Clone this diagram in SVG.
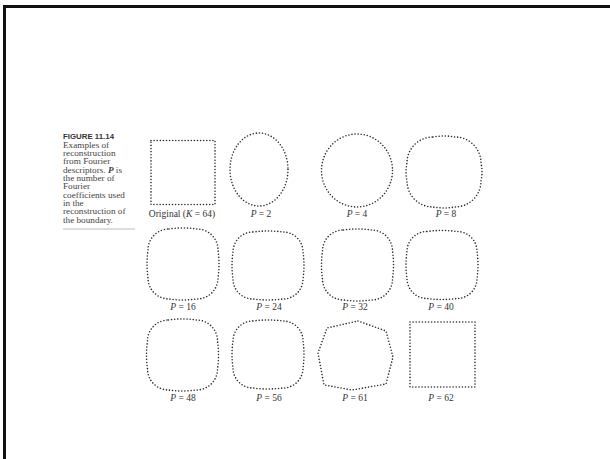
<svg xmlns="http://www.w3.org/2000/svg" width="610" height="459" viewBox="0 0 610 459">
<style>
.dot{fill:none;stroke:#2a2a2a;stroke-width:1.6;stroke-dasharray:0 3.1;stroke-linecap:round}
.lbl{font-family:"Liberation Serif","Times New Roman",serif;font-size:9.5px;fill:#333;text-anchor:middle}
.it{font-style:italic}
.cap{font-family:"Liberation Serif","Times New Roman",serif;font-size:9.2px;fill:#444}
.fig{font-family:"Liberation Sans",Arial,sans-serif;font-size:8px;font-weight:bold;fill:#333}
</style>
<defs>
<path id="rsA" d="M -14,-35 Q 0,-37 14,-35 A 21,21 0 0 1 35,-14 Q 37,0 35,14 A 21,21 0 0 1 14,35 Q 0,37 -14,35 A 21,21 0 0 1 -35,14 Q -37,0 -35,-14 A 21,21 0 0 1 -14,-35 Z"/>
<path id="rsB" d="M -15,-33.5 Q 0,-35.5 15,-33.5 A 20,20 0 0 1 35,-13.5 Q 37,0 35,13.5 A 20,20 0 0 1 15,33.5 Q 0,35.5 -15,33.5 A 20,20 0 0 1 -35,13.5 Q -37,0 -35,-13.5 A 20,20 0 0 1 -15,-33.5 Z"/>
</defs>
<rect x="4.5" y="6.5" width="620" height="470" fill="#fff" stroke="#111" stroke-width="3"/>

<g id="caption">
<text class="fig" x="63" y="139" textLength="51" lengthAdjust="spacingAndGlyphs">FIGURE 11.14</text>
<text class="cap" x="63" y="147.8">Examples of</text>
<text class="cap" x="63" y="156.1">reconstruction</text>
<text class="cap" x="63" y="164.4">from Fourier</text>
<text class="cap" x="63" y="172.7">descriptors. <tspan font-style="italic" font-weight="bold">P</tspan> is</text>
<text class="cap" x="63" y="181">the number of</text>
<text class="cap" x="63" y="189.3">Fourier</text>
<text class="cap" x="63" y="197.6">coefficients used</text>
<text class="cap" x="63" y="205.9">in the</text>
<text class="cap" x="63" y="214.2">reconstruction of</text>
<text class="cap" x="63" y="222.5">the boundary.</text>
<line x1="63" y1="229" x2="135" y2="229" stroke="#aaa" stroke-width="0.8"/>
</g>

<g id="original">
<rect class="dot" x="151" y="140.5" width="64" height="64"/>
<text class="lbl" x="182" y="217">Original (<tspan class="it">K</tspan> = 64)</text>
</g>
<g id="p2">
<ellipse class="dot" cx="259" cy="169.5" rx="29" ry="36.5"/>
<text class="lbl" x="261" y="217"><tspan class="it">P</tspan> = 2</text>
</g>
<g id="p4">
<ellipse class="dot" cx="357" cy="170.5" rx="35.5" ry="36.5"/>
<text class="lbl" x="357" y="217"><tspan class="it">P</tspan> = 4</text>
</g>
<g id="p8">
<path class="dot" transform="translate(444,172)" d="M -11,-35 Q 0,-37 11,-35 A 26,26 0 0 1 37,-9 Q 39,0 37,9 A 26,26 0 0 1 11,35 Q 0,37 -11,35 A 26,26 0 0 1 -37,9 Q -39,0 -37,-9 A 26,26 0 0 1 -11,-35 Z"/>
<text class="lbl" x="446" y="217"><tspan class="it">P</tspan> = 8</text>
</g>

<g id="p16">
<use href="#rsA" class="dot" transform="translate(183,264)"/>
<text class="lbl" x="183" y="310"><tspan class="it">P</tspan> = 16</text>
</g>
<g id="p24">
<use href="#rsB" class="dot" transform="translate(268,265.5)"/>
<text class="lbl" x="269" y="310"><tspan class="it">P</tspan> = 24</text>
</g>
<g id="p32">
<use href="#rsA" class="dot" transform="translate(357.5,265)"/>
<text class="lbl" x="355" y="310"><tspan class="it">P</tspan> = 32</text>
</g>
<g id="p40">
<use href="#rsB" class="dot" transform="translate(442,265)"/>
<text class="lbl" x="441" y="310"><tspan class="it">P</tspan> = 40</text>
</g>

<g id="p48">
<use href="#rsA" class="dot" transform="translate(182.5,355)"/>
<text class="lbl" x="183" y="401"><tspan class="it">P</tspan> = 48</text>
</g>
<g id="p56">
<use href="#rsB" class="dot" transform="translate(268,354.5)"/>
<text class="lbl" x="269" y="401"><tspan class="it">P</tspan> = 56</text>
</g>
<g id="p61">
<path class="dot" d="M 358,321 L 386,331 L 393,357 L 386,384 L 352,390 L 324,385 L 318,353 L 327,328 Z"/>
<text class="lbl" x="355" y="401"><tspan class="it">P</tspan> = 61</text>
</g>
<g id="p62">
<rect class="dot" x="410" y="322" width="65" height="65"/>
<text class="lbl" x="441" y="401"><tspan class="it">P</tspan> = 62</text>
</g>
</svg>
